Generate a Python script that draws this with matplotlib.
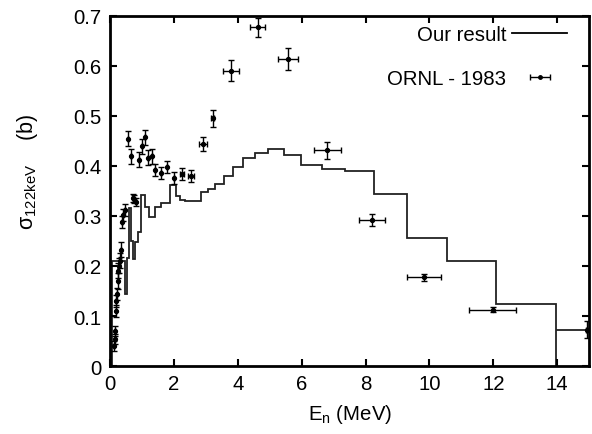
import numpy as np
import matplotlib
matplotlib.use('Agg')
import matplotlib.pyplot as plt

plt.rcParams['font.family'] = ['Liberation Sans', 'DejaVu Sans']
plt.rcParams['mathtext.default'] = 'regular'

# Our result: histogram bin edges (MeV) and cross sections (b)
edges = [0.06, 0.48, 0.52, 0.59, 0.66, 0.72, 0.79, 0.87, 0.96, 1.09, 1.23,
         1.41, 1.60, 1.87, 2.07, 2.20, 2.35, 2.86, 3.07, 3.30, 3.57, 3.85,
         4.17, 4.53, 4.95, 5.46, 5.98, 6.63, 7.36, 8.25, 9.30, 10.56, 12.08,
         13.97, 15.0]
sigma = [0.21, 0.145, 0.215, 0.315, 0.25, 0.214, 0.247, 0.267, 0.341, 0.317,
         0.298, 0.317, 0.325, 0.361, 0.339, 0.331, 0.329, 0.347, 0.354, 0.364,
         0.38, 0.397, 0.415, 0.426, 0.434, 0.421, 0.402, 0.394, 0.389, 0.344,
         0.255, 0.209, 0.124, 0.073]

# ORNL - 1983 data
ornl_e = [0.12, 0.14, 0.16, 0.18, 0.20, 0.22, 0.24, 0.26, 0.28, 0.31, 0.34,
          0.37, 0.41, 0.46, 0.55, 0.65, 0.72, 0.76, 0.80, 0.92, 1.00, 1.08,
          1.20, 1.30, 1.42, 1.60, 1.78, 1.99, 2.25, 2.54, 2.90, 3.21, 3.78,
          4.62, 5.56, 6.80, 8.20, 9.83, 11.98, 14.95]
ornl_s = [0.04, 0.055, 0.07, 0.11, 0.13, 0.145, 0.17, 0.19, 0.20, 0.21, 0.232,
          0.287, 0.302, 0.312, 0.454, 0.419, 0.336, 0.333, 0.328, 0.412, 0.439,
          0.457, 0.416, 0.419, 0.391, 0.386, 0.397, 0.376, 0.384, 0.379, 0.443,
          0.495, 0.590, 0.677, 0.614, 0.431, 0.292, 0.177, 0.113, 0.073]
ornl_de = [0, 0, 0, 0, 0, 0, 0, 0, 0, 0, 0,
           0, 0, 0, 0, 0, 0, 0, 0, 0, 0, 0,
           0, 0, 0, 0, 0, 0, 0.05, 0.1, 0.12, 0.05, 0.26,
           0.23, 0.31, 0.42, 0.42, 0.53, 0.73, 0.05]
ornl_ds = [0.01, 0.01, 0.01, 0.012, 0.012, 0.012, 0.015, 0.015, 0.015, 0.015, 0.015,
           0.012, 0.012, 0.012, 0.015, 0.015, 0.008, 0.008, 0.008, 0.015, 0.015,
           0.015, 0.015, 0.015, 0.012, 0.012, 0.012, 0.012, 0.012, 0.012, 0.014,
           0.017, 0.021, 0.019, 0.022, 0.017, 0.012, 0.007, 0.005, 0.017]

fig = plt.figure(figsize=(5.92, 4.35), dpi=100)
ax = fig.add_axes([0.186, 0.156, 0.809, 0.806])

# histogram drops to zero at 14 MeV, last bin drawn separately
ax.stairs(sigma[:-1], edges[:-1], baseline=0, color='#222222', lw=1.3)
ax.stairs(sigma[-1:], edges[-2:], baseline=None, color='#222222', lw=1.3)

ax.errorbar(ornl_e, ornl_s, xerr=ornl_de, yerr=ornl_ds, fmt='o', color='black',
            ms=2.8, elinewidth=1.0, capsize=2, capthick=1.0)

# legend proxies
h_our, = ax.plot([], [], color='black', lw=1.3, label='Our result')
h_ornl = ax.errorbar([np.nan], [np.nan], xerr=[1], fmt='o', color='black',
                     ms=2.5, elinewidth=1.0, capsize=2, capthick=1.0,
                     label='ORNL - 1983')

ax.legend(handles=[h_our, h_ornl], loc='upper right', frameon=False,
          markerfirst=False, fontsize=14.7, handlelength=2.7, handletextpad=0.3,
          labelspacing=1.25, borderpad=0, borderaxespad=0,
          bbox_to_anchor=(0.955, 0.974))

ax.set_xlim(0, 15)
ax.set_ylim(0, 0.7)
ax.set_xticks([0, 2, 4, 6, 8, 10, 12, 14])
ax.set_yticks([0, 0.1, 0.2, 0.3, 0.4, 0.5, 0.6, 0.7])
ax.set_yticklabels(['0', '0.1', '0.2', '0.3', '0.4', '0.5', '0.6', '0.7'])
ax.tick_params(direction='in', length=5, width=1.5, top=True, right=True,
               labelsize=14.7, pad=6)
for s in ax.spines.values():
    s.set_linewidth(2)

ax.set_xlabel('E$_{n}$ (MeV)', fontsize=14.7, labelpad=6)
ax.set_ylabel('σ$_{122keV}$    (b)', fontsize=15.5)
ax.yaxis.set_label_coords(-0.147, 0.555)

fig.savefig('out.png', dpi=100)
